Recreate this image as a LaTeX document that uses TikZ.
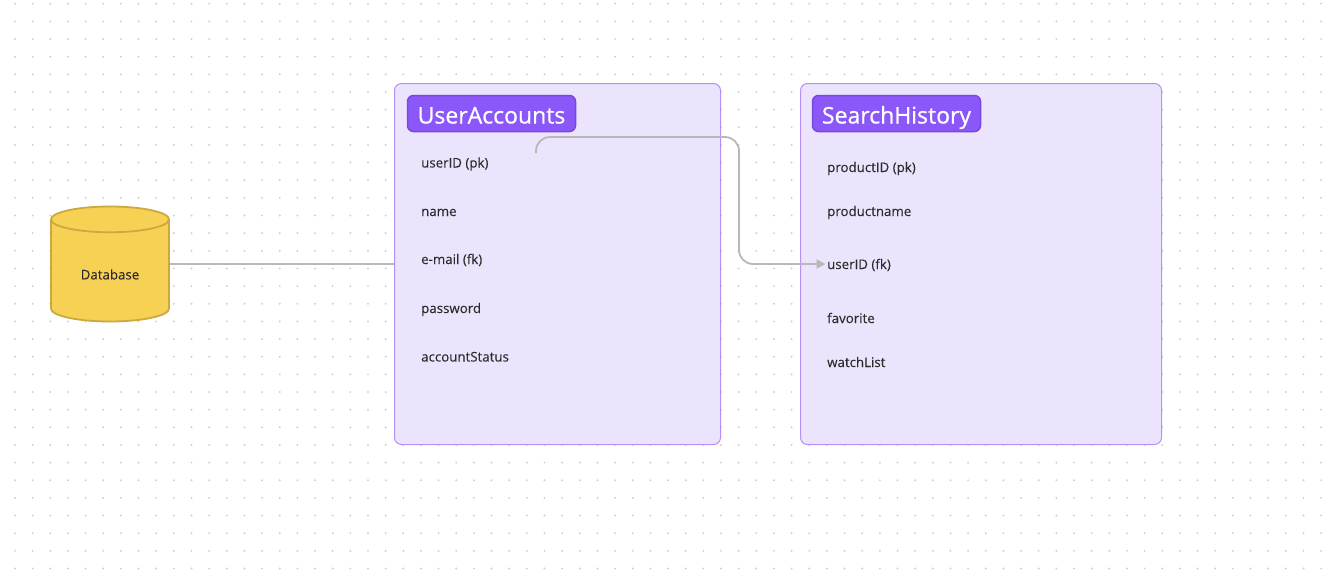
\documentclass[tikz,border=0pt]{standalone}
\usepackage{fontspec}
\setmainfont{Open Sans}
\newfontfamily\titlefont[FakeBold=0.7]{Open Sans}
\newfontfamily\fieldfont[FakeBold=0.1]{Open Sans}
\usetikzlibrary{shapes.geometric,arrows.meta}
\definecolor{dotgray}{HTML}{D0D0D0}
\definecolor{panelfill}{HTML}{ECE4FD}
\definecolor{panelline}{HTML}{B78FF7}
\definecolor{badgefill}{HTML}{8B57F8}
\definecolor{badgeline}{HTML}{7A49DC}
\definecolor{dbfill}{HTML}{F7D154}
\definecolor{dbline}{HTML}{CCA83F}
\definecolor{linkgray}{HTML}{B8B8B8}
\definecolor{inktext}{HTML}{2B2B2B}
\tikzset{
  panel/.style={draw=panelline,fill=panelfill,line width=1pt,rounded corners=7pt,minimum height=361pt,inner sep=0pt},
  badge/.style={draw=badgeline,fill=badgefill,line width=1.5pt,rounded corners=6pt,minimum width=168pt,minimum height=36pt,inner sep=0pt,text=white,text height=20pt,text depth=0pt,font=\titlefont\fontsize{23}{26}\selectfont},
  field/.style={anchor=west,inner sep=0pt,text=inktext,text height=10pt,text depth=0pt,font=\fieldfont\fontsize{13.3}{16}\selectfont},
  link/.style={draw=linkgray,line width=1.8pt},
}
\begin{document}
\begin{tikzpicture}[x=1pt,y=-1pt]
  \useasboundingbox (0,0) rectangle (1326,576);
  % Dot grid
  \foreach \i in {0,...,74}
    \foreach \j in {0,...,32}
      \fill[dotgray] ({15+17.65*\i},{3.7+17.65*\j}) circle (1.1pt);
  % Panels
  \node[panel,minimum width=326pt] (accounts) at (557.5,264) {};
  \node[panel,minimum width=361pt] (history) at (981,264) {};
  \node[badge] (accountstitle) at (491.5,113.5) {UserAccounts};
  \node[badge] (historytitle) at (896.5,113.5) {SearchHistory};
  % Fields
  \node[field] (userpk) at (421,162.5) {userID (pk)};
  \node[field] (name) at (421,211) {name};
  \node[field] (email) at (421,259) {e-mail (fk)};
  \node[field] (password) at (421,308) {password};
  \node[field] (status) at (421,356.5) {accountStatus};
  \node[field] (productpk) at (827,167) {productID (pk)};
  \node[field] (productname) at (827,211) {productname};
  \node[field] (userfk) at (827,264) {userID (fk)};
  \node[field] (favorite) at (827,318) {favorite};
  \node[field] (watchlist) at (827,362) {watchList};
  % Database
  \node[cylinder,shape border rotate=90,aspect=0.44,draw=dbline,line width=1.8pt,
    cylinder uses custom fill,cylinder body fill=dbfill,cylinder end fill=dbfill,
    minimum width=118pt,minimum height=115pt,inner sep=0pt,text=inktext,
    text height=17pt,text depth=0pt,anchor=shape center,
    font=\fieldfont\fontsize{13.3}{16}\selectfont] (database) at (110,264) {Database};
  % Connectors
  \coordinate (linkstart) at (536,153);
  \coordinate (linktop) at (739,137);
  \coordinate (linklow) at (739,264);
  \draw[link] (database.shape center -| database.east) -- (accounts.west);
  \draw[link,rounded corners=14pt,shorten >=1.5pt,-{Triangle[length=9pt,width=9pt]}]
    (linkstart) |- (linktop) -- (linklow) -- (userfk.west);
\end{tikzpicture}
\end{document}
